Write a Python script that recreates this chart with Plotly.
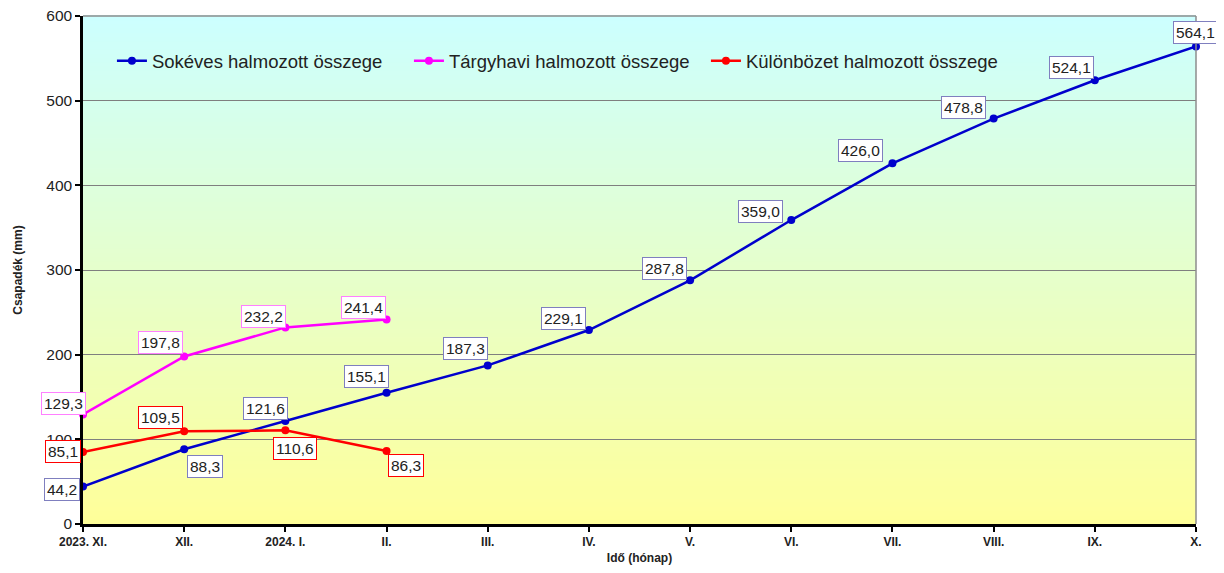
import plotly.graph_objects as go

months = ["2023. XI.", "XII.", "2024. I.", "II.", "III.", "IV.", "V.", "VI.", "VII.", "VIII.", "IX.", "X."]
sokeves = [44.2, 88.3, 121.6, 155.1, 187.3, 229.1, 287.8, 359.0, 426.0, 478.8, 524.1, 564.1]
targyhavi = [129.3, 197.8, 232.2, 241.4]
kulonbozet = [85.1, 109.5, 110.6, 86.3]
y_ticks = [0, 100, 200, 300, 400, 500, 600]

# label offsets in pixels (dx right, dy down) -- styling only
off_sok = [(-21, 3), (21, 17), (-20, -13), (-20, -16), (-22, -17), (-25, -12), (-26, -12),
           (-31, -9), (-32, -13), (-30, -11), (-23, -13), (-1, -14)]
off_targy = [(-20, -11), (-24, -14), (-22, -11), (-23, -12)]
off_kul = [(-20, 0), (-24, -14), (10, 18), (19, 15)]

BLUE = "#0000CC"
MAG = "#FF00FF"
RED = "#FF0000"
FONT = "Liberation Sans, Arial, sans-serif"

fig = go.Figure()

series = [
    ("Sokéves halmozott összege", sokeves, BLUE, "#7F7FBF", off_sok),
    ("Tárgyhavi halmozott összege", targyhavi, MAG, "#FF80FF", off_targy),
    ("Különbözet halmozott összege", kulonbozet, RED, "#FF0000", off_kul),
]

annotations = []
for name, vals, col, bcol, offs in series:
    xs = months[:len(vals)]
    fig.add_trace(go.Scatter(
        x=xs, y=vals, mode="lines+markers", name=name,
        line=dict(color=col, width=2.5),
        marker=dict(color=col, size=8, symbol="circle"),
        cliponaxis=False,
    ))
    for xv, yv, (dx, dy) in zip(xs, vals, offs):
        annotations.append(dict(
            x=xv, y=yv, xref="x", yref="y", showarrow=False,
            text=f"{yv:.1f}".replace(".", ","),
            font=dict(family=FONT, size=15.5, color="#222222"),
            bgcolor="white", bordercolor=bcol, borderwidth=1, borderpad=2,
            xshift=dx, yshift=-dy,
        ))

# gradient background bands (decoration)
shapes = []
N = 120
top = (204, 255, 255)
bot = (255, 255, 153)
for i in range(N):
    t = (i + 0.5) / N
    c = tuple(round(bot[k] + (top[k] - bot[k]) * t) for k in range(3))
    shapes.append(dict(type="rect", xref="paper", yref="paper",
                       x0=0, x1=1, y0=i / N, y1=(i + 1) / N + 0.002,
                       fillcolor="rgb(%d,%d,%d)" % c, line=dict(width=0), layer="below"))
# top and right frame
shapes.append(dict(type="line", xref="paper", yref="paper", x0=0, x1=1, y0=1, y1=1,
                   line=dict(color="#8C8C8C", width=1.5), layer="above"))
shapes.append(dict(type="line", xref="paper", yref="paper", x0=1, x1=1, y0=0, y1=1,
                   line=dict(color="#8C8C8C", width=1.5), layer="above"))

fig.update_layout(
    width=1208, height=557,
    margin=dict(l=75, r=20, t=8, b=41, autoexpand=False),
    paper_bgcolor="white",
    plot_bgcolor="rgba(0,0,0,0)",
    font=dict(family=FONT, color="#222222"),
    shapes=shapes,
    annotations=annotations,
    showlegend=True,
    legend=dict(orientation="h", x=0.026, y=0.911, xanchor="left", yanchor="middle",
                bgcolor="rgba(0,0,0,0)", font=dict(size=18.5, family=FONT, color="#222222"),
                itemwidth=30, traceorder="normal", entrywidth=252, entrywidthmode="pixels"),
    xaxis=dict(
        type="category", categoryorder="array", categoryarray=months,
        range=[0, 11], showgrid=False, zeroline=False, automargin=False,
        showline=True, linecolor="black", linewidth=2.5,
        ticks="outside", ticklen=5, tickwidth=2, tickcolor="black",
        tickfont=dict(size=12, family=FONT, color="#222222", weight="bold"),
        title=dict(text="<b>Idő (hónap)</b>", font=dict(size=12, family=FONT), standoff=10),
    ),
    yaxis=dict(
        range=[0, 600], tickvals=y_ticks, showgrid=True, gridcolor="#7F7F7F", gridwidth=1,
        zeroline=False, showline=True, linecolor="black", linewidth=2.5, automargin=False,
        ticks="outside", ticklen=5, tickwidth=2, tickcolor="black", ticklabeloverflow="allow",
        tickfont=dict(size=15.5, family=FONT, color="#222222"),
        title=dict(text="<b>Csapadék (mm)</b>", font=dict(size=12, family=FONT), standoff=22),
    ),
)

fig.write_html("out.html")
